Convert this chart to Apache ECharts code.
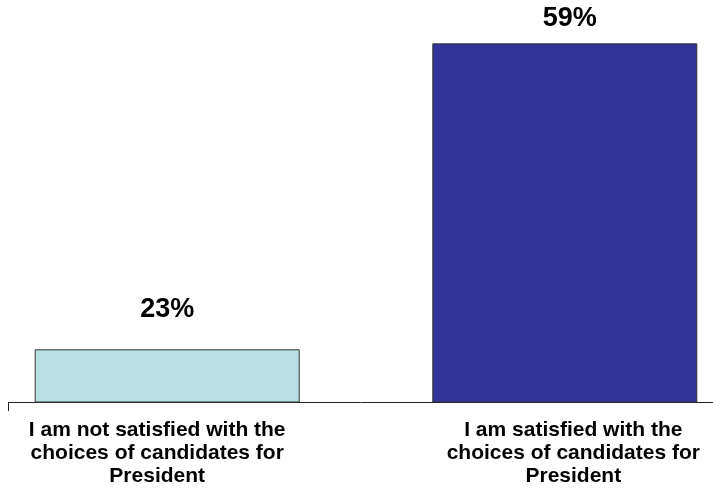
<!DOCTYPE html>
<html>
<head>
<meta charset="utf-8">
<script src="https://cdn.jsdelivr.net/npm/echarts@6/dist/echarts.min.js"></script>
<style>html,body{margin:0;padding:0;background:#fff;}#c{width:713px;height:491px;}</style>
</head>
<body>
<div id="c"></div>
<script>
var categories = [
  'I am not satisfied with the\nchoices of candidates for\nPresident',
  'I am satisfied with the\nchoices of candidates for\nPresident'
];
var values = [23, 59];
var barColors = ['#B9E0E2', '#333399'];
var labelDistances = [26, 11];
var labelOffsets = [[0, 0], [5, 0]];
var labelShift = [20, -17];

var chart = echarts.init(document.getElementById('c'));
var data = values.map(function (v, i) {
  return {
    value: v,
    itemStyle: { color: barColors[i], borderColor: '#333', borderWidth: 1 },
    label: { distance: labelDistances[i], offset: labelOffsets[i] }
  };
});
chart.setOption({
  animation: false,
  backgroundColor: '#fff',
  grid: { left: -31.6, width: 795.2, top: 0, bottom: 89, containLabel: false, outerBoundsMode: 'none' },
  xAxis: {
    type: 'category',
    data: categories,
    axisLine: { show: false },
    axisTick: { show: false },
    axisLabel: {
      interval: 0,
      margin: 17,
      formatter: function (val, idx) {
        var key = idx === 0 ? 'a' : 'b';
        return val.split('\n').map(function (l) { return '{' + key + '|' + l + '}'; }).join('\n');
      },
      rich: {
        a: { fontFamily: 'Liberation Sans, Arial, sans-serif', fontWeight: 'bold', fontSize: 21, lineHeight: 23, color: '#000', padding: [0, labelShift[0], 0, 0] },
        b: { fontFamily: 'Liberation Sans, Arial, sans-serif', fontWeight: 'bold', fontSize: 21, lineHeight: 23, color: '#000', padding: [0, 0, 0, labelShift[1] * -1] }
      }
    }
  },
  yAxis: {
    type: 'value',
    min: 16.8,
    max: 64.1,
    show: false,
    splitLine: { show: false }
  },
  series: [{
    type: 'bar',
    data: data,
    barWidth: 265,
    label: {
      show: true,
      position: 'top',
      formatter: '{c}%',
      fontFamily: 'Liberation Sans, Arial, sans-serif',
      fontWeight: 'bold',
      fontSize: 27,
      color: '#000'
    }
  }],
  graphic: [
    { type: 'line', shape: { x1: 8, y1: 402.5, x2: 713, y2: 402.5 }, style: { stroke: '#222', lineWidth: 1 } },
    { type: 'line', shape: { x1: 8.5, y1: 402, x2: 8.5, y2: 411 }, style: { stroke: '#222', lineWidth: 1 } }
  ]
});
</script>
</body>
</html>
